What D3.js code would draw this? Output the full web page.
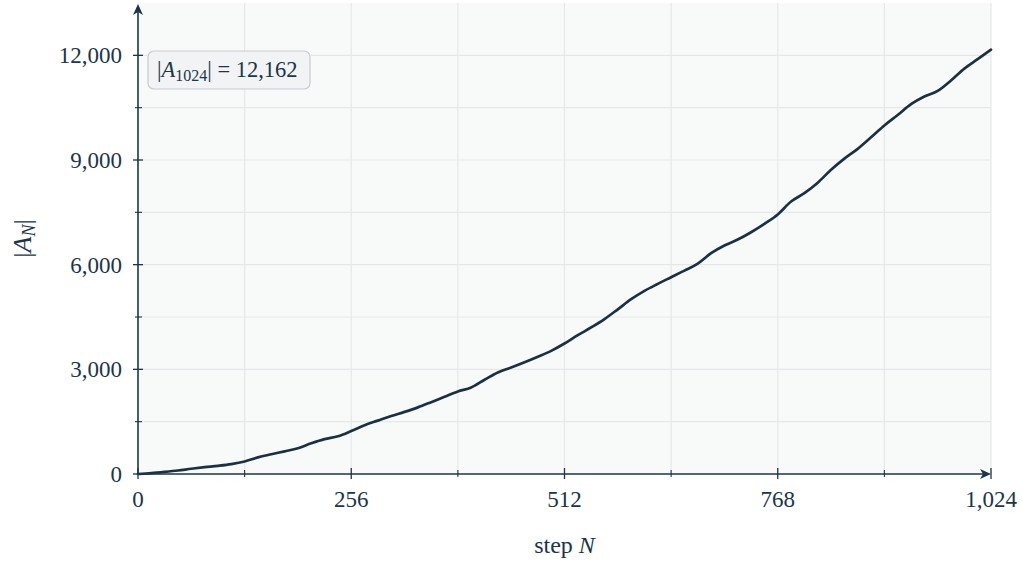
<!DOCTYPE html>
<html><head><meta charset="utf-8">
<script src="https://cdn.jsdelivr.net/npm/d3@7"></script>
<style>
html,body{margin:0;padding:0;background:#fff;}
text{font-family:"Liberation Serif","DejaVu Serif",serif;fill:#1d3547;}
</style></head>
<body>
<svg id="chart" width="1022" height="561"></svg>
<script>
const steps = [0,16,32,48,64,80,96,112,128,144,160,176,192,208,224,240,256,272,288,304,320,336,352,368,384,400,416,432,448,464,480,496,512,528,544,560,576,592,608,624,640,656,672,688,704,720,736,752,768,784,800,816,832,848,864,880,896,912,928,944,960,976,992,1008,1024];
const sizes = [0,25,60,100,150,195,235,285,360,475,565,650,740,880,1000,1080,1230,1400,1530,1660,1780,1910,2060,2215,2365,2480,2700,2910,3050,3200,3360,3530,3740,3980,4200,4440,4720,5010,5250,5450,5640,5830,6030,6330,6550,6720,6930,7170,7440,7810,8050,8350,8720,9040,9320,9650,9990,10290,10600,10820,10980,11280,11620,11890,12162];
const xTicks = [0,256,512,768,1024];
const xMinor = [128,384,640,896];
const yTicks = [0,3000,6000,9000,12000];
const yMinor = [1500,4500,7500,10500];
const xGrid = [128,256,384,512,640,768,896,1024];
const yGrid = [1500,3000,4500,6000,7500,9000,10500,12000];
const xTitle = "step ";
const xTitleVar = "N";
const annoValue = "12,162";

const ink = "#1d3547";
const svg = d3.select("#chart");
const L = 138, R = 991, T = 3, B = 474;
const x = d3.scaleLinear().domain([0,1024]).range([L,R]);
const y = d3.scaleLinear().domain([0,13500]).range([B,T]);
const fmt = d3.format(",");

svg.append("rect").attr("x",L).attr("y",T).attr("width",R-L).attr("height",B-T).attr("fill","#f8fafa");

const g = svg.append("g");
g.selectAll(".vg").data(xGrid).join("line")
  .attr("x1",d=>x(d)).attr("x2",d=>x(d)).attr("y1",T).attr("y2",B)
  .attr("stroke","#e5e8e9").attr("stroke-width",1.2);
g.selectAll(".hg").data(yGrid).join("line")
  .attr("x1",L).attr("x2",R).attr("y1",d=>y(d)).attr("y2",d=>y(d))
  .attr("stroke","#e5e8e9").attr("stroke-width",1.2);

// line
const line = d3.line().x((d,i)=>x(steps[i])).y(d=>y(d)).curve(d3.curveMonotoneX);
svg.append("path").datum(sizes).attr("d",line)
  .attr("fill","none").attr("stroke","#1b3142").attr("stroke-width",2.7)
  .attr("stroke-linejoin","round").attr("stroke-linecap","round");

// axes
svg.append("line").attr("x1",L).attr("x2",R-2).attr("y1",B).attr("y2",B).attr("stroke",ink).attr("stroke-width",1.6);
svg.append("line").attr("x1",L).attr("x2",L).attr("y1",B).attr("y2",T+3).attr("stroke",ink).attr("stroke-width",1.6);
// arrowheads
svg.append("path").attr("d",`M${R},${B} L${R-11},${B-5} L${R-8},${B} L${R-11},${B+5} Z`).attr("fill",ink);
svg.append("path").attr("d",`M${L},${T+1} L${L-5},${T+12} L${L},${T+9} L${L+5},${T+12} Z`).attr("fill",ink);

// x ticks
svg.selectAll(".xt").data(xTicks).join("line")
  .attr("x1",d=>x(d)).attr("x2",d=>x(d)).attr("y1",B-6).attr("y2",B+5)
  .attr("stroke",ink).attr("stroke-width",1.3);
svg.selectAll(".xm").data(xMinor).join("line")
  .attr("x1",d=>x(d)).attr("x2",d=>x(d)).attr("y1",B-4).attr("y2",B+3)
  .attr("stroke",ink).attr("stroke-width",1.1);
svg.selectAll(".xl").data(xTicks).join("text")
  .attr("x",d=>x(d)).attr("y",B+33).attr("text-anchor","middle")
  .attr("font-size",23).text(d=>fmt(d));

// y ticks
svg.selectAll(".yt").data(yTicks).join("line")
  .attr("x1",L-5).attr("x2",L+5).attr("y1",d=>y(d)).attr("y2",d=>y(d))
  .attr("stroke",ink).attr("stroke-width",1.3);
svg.selectAll(".ym").data(yMinor).join("line")
  .attr("x1",L-3).attr("x2",L+4).attr("y1",d=>y(d)).attr("y2",d=>y(d))
  .attr("stroke",ink).attr("stroke-width",1.1);
svg.selectAll(".yl").data(yTicks).join("text")
  .attr("x",L-16).attr("y",d=>y(d)).attr("dy","0.35em").attr("text-anchor","end")
  .attr("font-size",23).text(d=>fmt(d));

// axis titles
const xt = svg.append("text").attr("x",(L+R)/2).attr("y",553).attr("text-anchor","middle").attr("font-size",24);
xt.append("tspan").text(xTitle);
xt.append("tspan").attr("font-style","italic").text(xTitleVar);

const yt = svg.append("text").attr("transform",`translate(31,${(T+B)/2}) rotate(-90)`).attr("text-anchor","middle").attr("font-size",26);
yt.append("tspan").text("|");
yt.append("tspan").attr("font-style","italic").text("A");
yt.append("tspan").attr("font-style","italic").attr("font-size",18).attr("dy",4).text("N");
yt.append("tspan").attr("dy",-4).text("|");

// annotation
svg.append("rect").attr("x",148).attr("y",51).attr("width",162).attr("height",38).attr("rx",6)
  .attr("fill","#f1f3f5").attr("stroke","#c6ccd1").attr("stroke-width",1.2);
const at = svg.append("text").attr("x",157).attr("y",77).attr("font-size",22.5);
at.append("tspan").text("|");
at.append("tspan").attr("font-style","italic").text("A");
at.append("tspan").attr("font-size",16).attr("dy",4).text("1024");
at.append("tspan").attr("dy",-4).text("| = " + annoValue);
</script>
</body></html>
